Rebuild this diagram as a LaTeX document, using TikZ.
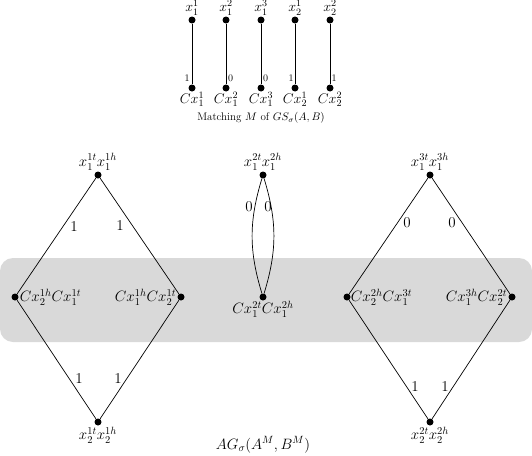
\RequirePackage{fix-cm}
\documentclass[tikz,border=0pt]{standalone}
\begin{document}
\begin{tikzpicture}[x=1pt,y=-1pt,
  dot/.style={circle,fill=black,inner sep=0pt,minimum size=7pt},
  edge/.style={line width=0.7pt},
  big/.style={font=\fontsize{15}{18}\selectfont},
  mid/.style={font=\fontsize{14}{17}\selectfont},
  lbl/.style={inner sep=1pt,big},
  elbl/.style={inner sep=0pt,big}]
\useasboundingbox (0,0) rectangle (532,455);
% gray band
\fill[gray!30,rounded corners=13pt] (0,258) rectangle (532,342);
% top matching
\foreach \i/\x/\tl/\bl/\el/\ex in {1/192/{x_1^1}/{Cx_1^1}/1/187,2/226/{x_1^2}/{Cx_1^2}/0/230.5,3/261/{x_1^3}/{Cx_1^3}/0/265.5,4/295/{x_2^1}/{Cx_2^1}/1/291,5/330/{x_2^2}/{Cx_2^2}/1/334}{
  \node[dot] (t\i) at (\x,20) {};
  \node[dot] (b\i) at (\x,88) {};
  \node[inner sep=0pt,mid,anchor=south] at ([yshift=1pt]t\i.north) {$\tl$};
  \node[inner sep=0pt,mid,anchor=north] at (b\i.south) {$\bl$};
  \draw[edge] (t\i) -- (b\i);
  \node[inner sep=0pt,font=\fontsize{10}{12}\selectfont] at (\ex,78) {$\el$};
}
\node[inner sep=0pt,font=\fontsize{11}{13}\selectfont] (cap1) at (261,118) {Matching $M$ of $GS_\sigma(A,B)$};
% left diamond
\node[dot] (A) at (98,175) {};
\node[dot] (B) at (15,297) {};
\node[dot] (C) at (181,297) {};
\node[dot] (D) at (98,422) {};
\node[lbl,anchor=south] at (A.north) {$x_1^{1t}x_1^{1h}$};
\node[lbl,anchor=north] at (D.south) {$x_2^{1t}x_2^{1h}$};
\node[lbl,anchor=west] at (B.east) {$Cx_2^{1h}Cx_1^{1t}$};
\node[lbl,anchor=east] at (C.west) {$Cx_1^{1h}Cx_2^{1t}$};
\draw[edge] (A) -- (B) -- (D) -- (C) -- (A);
\node[elbl] at (74,227) {$1$};
\node[elbl] at (120,226) {$1$};
\node[elbl] at (79,379) {$1$};
\node[elbl] at (118,379) {$1$};
% middle
\node[dot] (E) at (263,175) {};
\node[dot] (F) at (263,297) {};
\node[lbl,anchor=south] at (E.north) {$x_1^{2t}x_1^{2h}$};
\node[lbl,anchor=north,inner sep=0pt] at (F.south) {$Cx_1^{2t}Cx_1^{2h}$};
\draw[edge] (E) to[bend right=17] (F);
\draw[edge] (E) to[bend left=17] (F);
\node[elbl] at (249,207) {$0$};
\node[elbl] at (268,207) {$0$};
% right diamond
\node[dot] (G) at (430,175) {};
\node[dot] (H) at (347,297) {};
\node[dot] (I) at (512,297) {};
\node[dot] (J) at (430,422) {};
\node[lbl,anchor=south] at (G.north) {$x_1^{3t}x_1^{3h}$};
\node[lbl,anchor=north] at (J.south) {$x_2^{2t}x_2^{2h}$};
\node[lbl,anchor=west,inner sep=0pt] at (H.east) {$Cx_2^{2h}Cx_1^{3t}$};
\node[lbl,anchor=east] at (I.west) {$Cx_1^{3h}Cx_2^{2t}$};
\draw[edge] (G) -- (H) -- (J) -- (I) -- (G);
\node[elbl] at (407,223) {$0$};
\node[elbl] at (452,223) {$0$};
\node[elbl] at (415,387) {$1$};
\node[elbl] at (445,387) {$1$};
\node[inner sep=0pt,big] (cap2) at (263,445) {$AG_\sigma(A^M,B^M)$};
\end{tikzpicture}
\end{document}
